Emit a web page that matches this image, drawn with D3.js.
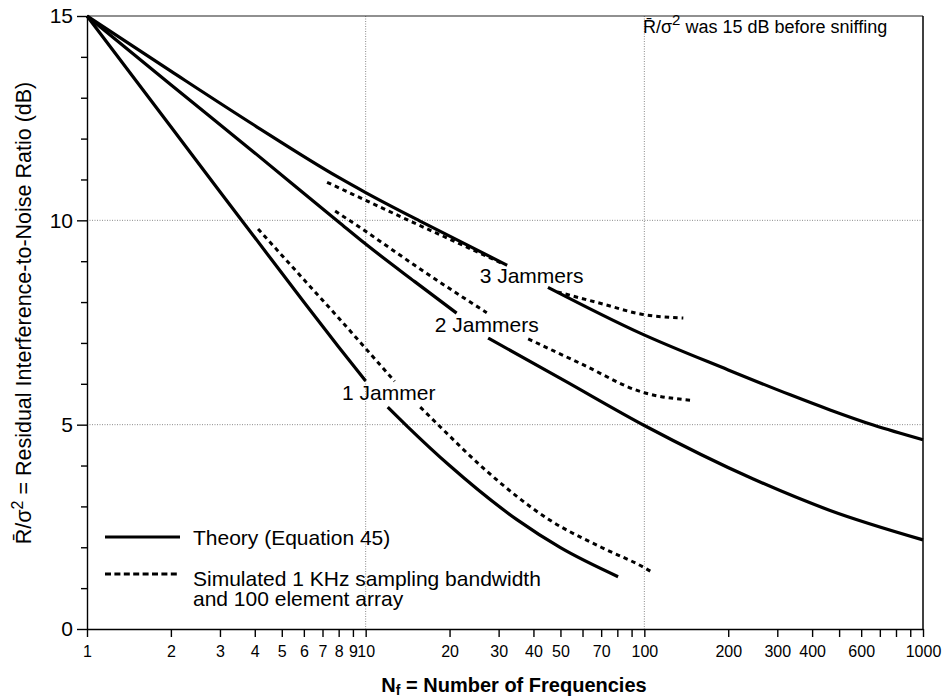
<!DOCTYPE html>
<html>
<head>
<meta charset="utf-8">
<script src="https://cdn.jsdelivr.net/npm/d3@7"></script>
<style>
  body { margin: 0; background: #fff; }
  text { font-family: "Liberation Sans", Arial, Helvetica, sans-serif; fill: #000; }
</style>
</head>
<body>
<div id="chart"></div>
<script>
// values, [Nf, dB]; null = break where a label sits on the curve
// Theory (Equation 45)
var theory1 = [[1, 15], [2, 12.29], [3, 10.7], [4, 9.58], [6, 8.0], [8, 6.9], [10, 6.07], null,
  [12, 5.43], [14.1, 4.96], [20, 4.0], [35, 2.67], [50, 1.99], [80.5, 1.28]];
var theory2 = [[1, 15], [2, 13.32], [4, 11.65], [8, 9.96], [10, 9.42], [15, 8.5], [21.2, 7.73], null,
  [27.5, 7.12], [51.3, 6.09], [100, 4.98], [246, 3.67], [464, 2.9], [1000, 2.18]];
var theory3 = [[1, 15], [2, 13.65], [4, 12.32], [8, 11.05], [10, 10.68], [16, 9.95], [32.2, 8.9], null,
  [45.1, 8.36], [96.6, 7.24], [200, 6.34], [334, 5.73], [464, 5.36], [663, 4.99], [1000, 4.63]];

// Simulated 1 KHz sampling bandwidth, 100 element array
var sim1 = [[4.11, 9.79], [6, 8.55], [8, 7.61], [10.1, 6.83], [12.7, 6.06], null,
  [15.7, 5.43], [18.5, 4.95], [26.5, 3.93], [45.9, 2.66], [70, 2.0], [100, 1.5], [106, 1.4]];
var sim2 = [[7.77, 10.23], [10, 9.73], [15, 8.9], [20, 8.33], [27.2, 7.74], null,
  [38.3, 7.10], [58.9, 6.50], [100, 5.78], [146, 5.60]];
var sim3 = [[7.27, 10.93], [10, 10.49], [15, 9.93], [20, 9.54], [30.8, 8.95], null,
  [48.7, 8.25], [69.4, 7.97], [100, 7.69], [138, 7.61]];

// curve labels
var jammerNames = ["1 Jammer", "2 Jammers", "3 Jammers"];
var jammerNf = [12.1, 27.2, 39.4];
var jammerDb = [5.6, 7.27, 8.47];

// ticks
var xTicks = [1, 2, 3, 4, 5, 6, 7, 8, 9, 10, 20, 30, 40, 50, 60, 70, 80, 90,
  100, 200, 300, 400, 500, 600, 700, 800, 900, 1000];
var xTickLabels = [1, 2, 3, 4, 5, 6, 7, 8, 9, 10, 20, 30, 40, 50, 70, 100, 200, 300, 400, 600, 1000];
var yMajorTicks = [0, 5, 10, 15];
var yMinorTicks = [1, 2, 3, 4, 6, 7, 8, 9, 11, 12, 13, 14];
var xGrid = [10, 100];
var yGrid = [5, 10];

var svgWidth = 950;
var svgHeight = 700;
var margin = { top: 16, right: 27, bottom: 71, left: 87 };
var width = svgWidth - margin.left - margin.right;
var height = svgHeight - margin.top - margin.bottom;

var svg = d3.select("#chart")
  .append("svg")
  .attr("width", svgWidth)
  .attr("height", svgHeight);

var chartGroup = svg.append("g")
  .attr("transform", `translate(${margin.left}, ${margin.top})`);

var x = d3.scaleLog().domain([1, 1000]).range([0, width]);
var y = d3.scaleLinear().domain([0, 15]).range([height, 0]);

// grid lines
chartGroup.selectAll(".vgrid")
  .data(xGrid)
  .enter()
  .append("line")
  .attr("x1", d => x(d)).attr("x2", d => x(d))
  .attr("y1", 0).attr("y2", height)
  .attr("stroke", "#8a8a8a")
  .attr("stroke-width", 1)
  .attr("stroke-dasharray", "1,1.5");

chartGroup.selectAll(".hgrid")
  .data(yGrid)
  .enter()
  .append("line")
  .attr("x1", 0).attr("x2", width)
  .attr("y1", d => y(d)).attr("y2", d => y(d))
  .attr("stroke", "#8a8a8a")
  .attr("stroke-width", 1)
  .attr("stroke-dasharray", "1,1.5");

// frame top / right
chartGroup.append("line")
  .attr("x1", 0).attr("x2", width)
  .attr("y1", y(15)).attr("y2", y(15))
  .attr("stroke", "#222").attr("stroke-width", 1.2);
chartGroup.append("line")
  .attr("x1", x(1000)).attr("x2", x(1000))
  .attr("y1", 0).attr("y2", height)
  .attr("stroke", "#000").attr("stroke-width", 1.5);

// axes
var bottomAxis = d3.axisBottom(x)
  .tickValues(xTicks)
  .tickFormat(d => xTickLabels.indexOf(d) >= 0 ? d : "")
  .tickSize(8)
  .tickSizeOuter(0)
  .tickPadding(9);

var xAxis = chartGroup.append("g")
  .attr("transform", `translate(0, ${height})`)
  .call(bottomAxis);
xAxis.selectAll("text").style("font-size", "16px");

var leftAxis = d3.axisLeft(y)
  .tickValues(yMajorTicks)
  .tickSize(10)
  .tickSizeOuter(0)
  .tickPadding(4);
var yAxis = chartGroup.append("g").call(leftAxis);
yAxis.selectAll("text").style("font-size", "21px");

chartGroup.append("g")
  .call(d3.axisLeft(y).tickValues(yMinorTicks).tickSize(6).tickSizeOuter(0).tickFormat(""))
  .select(".domain").remove();

chartGroup.selectAll(".domain, .tick line")
  .attr("stroke", "#000")
  .attr("stroke-width", 1.4);

// curves
var line = d3.line()
  .defined(d => d !== null)
  .x(d => x(d[0]))
  .y(d => y(d[1]))
  .curve(d3.curveMonotoneX);

[theory1, theory2, theory3].forEach(function(series) {
  chartGroup.append("path")
    .datum(series)
    .attr("d", line)
    .attr("fill", "none")
    .attr("stroke", "#000")
    .attr("stroke-width", 3.2);
});

[sim1, sim2, sim3].forEach(function(series) {
  chartGroup.append("path")
    .datum(series)
    .attr("d", line)
    .attr("fill", "none")
    .attr("stroke", "#000")
    .attr("stroke-width", 3)
    .attr("stroke-dasharray", "4.5,4");
});

// jammer labels
chartGroup.selectAll(".jlabel")
  .data(jammerNames)
  .enter()
  .append("text")
  .attr("x", (d, i) => x(jammerNf[i]))
  .attr("y", (d, i) => y(jammerDb[i]))
  .attr("text-anchor", "middle")
  .style("font-size", "21px")
  .text(d => d);

// note, top right
var note = chartGroup.append("text")
  .attr("x", 556)
  .attr("y", 17)
  .style("font-size", "18px");
note.append("tspan").text("R\u0304/\u03c3");
note.append("tspan").attr("baseline-shift", "super").style("font-size", "15px").text("2");
note.append("tspan").text(" was 15 dB before sniffing");

// legend
var legend = chartGroup.append("g").attr("transform", "translate(18, 521)");
legend.append("line")
  .attr("x1", 0).attr("x2", 75).attr("y1", 0).attr("y2", 0)
  .attr("stroke", "#000").attr("stroke-width", 3.2);
legend.append("text")
  .attr("x", 88).attr("y", 8)
  .style("font-size", "21px")
  .text("Theory (Equation 45)");
legend.append("line")
  .attr("x1", 0).attr("x2", 75).attr("y1", 37).attr("y2", 37)
  .attr("stroke", "#000").attr("stroke-width", 3)
  .attr("stroke-dasharray", "6,3.4");
legend.append("text")
  .attr("x", 88).attr("y", 49)
  .style("font-size", "21px")
  .text("Simulated 1 KHz sampling bandwidth");
legend.append("text")
  .attr("x", 88).attr("y", 69)
  .style("font-size", "21px")
  .text("and 100 element array");

// axis titles
var xTitle = svg.append("text")
  .attr("x", 514)
  .attr("y", 692)
  .attr("text-anchor", "middle")
  .style("font-size", "20px")
  .style("font-weight", "bold");
xTitle.append("tspan").text("N");
xTitle.append("tspan").attr("baseline-shift", "-3px").style("font-size", "14px").text("f");
xTitle.append("tspan").text(" = Number of Frequencies");

var yTitle = svg.append("text")
  .attr("transform", "translate(31, 313) rotate(-90)")
  .attr("text-anchor", "middle")
  .style("font-size", "21.5px");
yTitle.append("tspan").text("R\u0304/\u03c3");
yTitle.append("tspan").attr("baseline-shift", "super").style("font-size", "16px").text("2");
yTitle.append("tspan").text(" = Residual Interference-to-Noise Ratio (dB)");
</script>
</body>
</html>
